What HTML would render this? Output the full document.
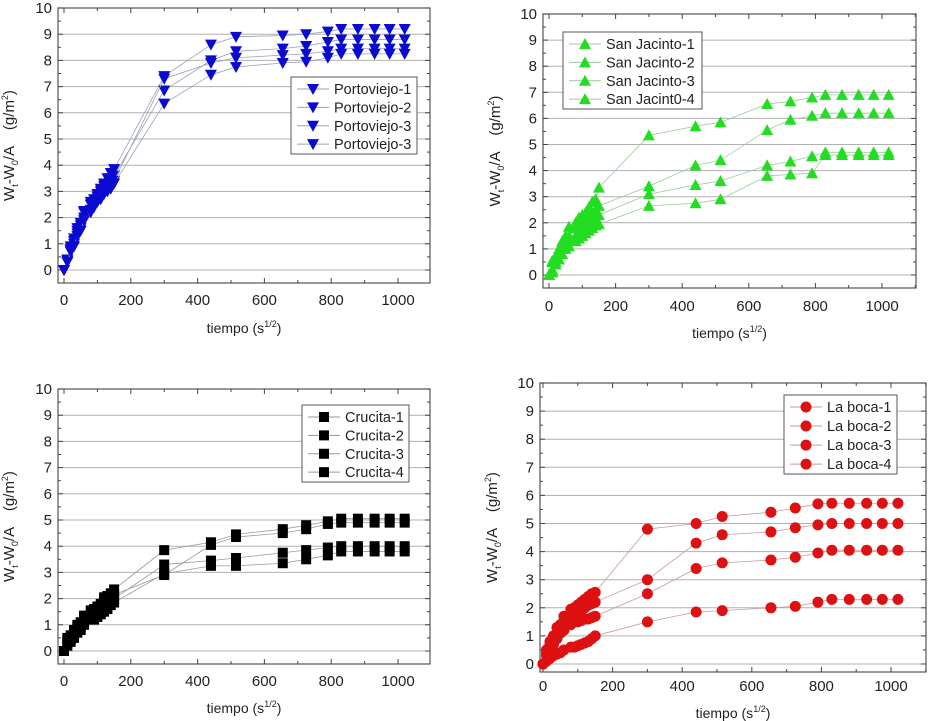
<!DOCTYPE html>
<html><head><meta charset="utf-8"><style>
html,body{margin:0;padding:0;background:#fff;}
svg{display:block;font-family:"Liberation Sans",Arial,sans-serif;}
text{white-space:pre;}
</style></head><body>
<svg id="fig" width="929" height="721" viewBox="0 0 929 721" xmlns="http://www.w3.org/2000/svg"></svg>
<script>
const xTimes=[0,10,20,30,40,50,60,80,90,100,110,120,130,140,150,300,440,515,655,725,790,830,880,930,975,1020];
const xTicks=[0,200,400,600,800,1000];
const yTicks=[0,1,2,3,4,5,6,7,8,9,10];
const portoNames=["Portoviejo-1","Portoviejo-2","Portoviejo-3","Portoviejo-3"];
const porto1=[0,0.4,0.9,1.2,1.6,1.8,2.25,2.6,2.7,2.9,3.1,3.3,3.5,3.7,3.85,7.4,8.6,8.9,8.95,9.0,9.1,9.2,9.2,9.2,9.2,9.2];
const porto2=[0,0.4,0.8,1.1,1.5,1.7,2.2,2.5,2.6,2.8,3.0,3.2,3.3,3.5,3.6,6.85,8.0,8.35,8.45,8.55,8.7,8.8,8.8,8.8,8.8,8.8];
const porto3=[0,0.35,0.75,1.0,1.4,1.6,2.0,2.3,2.5,2.7,2.9,3.0,3.2,3.3,3.4,7.3,7.9,8.1,8.2,8.25,8.35,8.45,8.45,8.45,8.45,8.45];
const porto4=[0,0.3,0.7,0.9,1.3,1.5,1.9,2.2,2.4,2.6,2.7,2.9,3.0,3.1,3.3,6.35,7.45,7.75,7.9,7.95,8.1,8.25,8.25,8.25,8.25,8.25];
const sjNames=["San Jacinto-1","San Jacinto-2","San Jacinto-3","San Jacint0-4"];
const sj1=[0,0.55,0.7,1.0,1.3,1.5,1.85,2.0,2.2,2.3,2.4,2.6,2.8,2.9,3.35,5.35,5.7,5.85,6.55,6.65,6.8,6.9,6.9,6.9,6.9,6.9];
const sj2=[0,0.5,0.6,0.9,1.1,1.3,1.5,1.8,1.9,2.0,2.1,2.2,2.4,2.5,2.65,3.4,4.2,4.4,5.55,5.95,6.1,6.2,6.2,6.2,6.2,6.2];
const sj3=[0,0.2,0.5,0.8,1.0,1.1,1.3,1.5,1.6,1.8,1.9,2.0,2.1,2.2,2.3,3.1,3.45,3.6,4.2,4.35,4.55,4.7,4.7,4.7,4.7,4.7];
const sj4=[0,0.1,0.4,0.6,0.8,1.0,1.1,1.3,1.4,1.5,1.6,1.7,1.8,1.9,1.95,2.65,2.75,2.9,3.8,3.85,3.9,4.6,4.6,4.6,4.6,4.6];
const crNames=["Crucita-1","Crucita-2","Crucita-3","Crucita-4"];
const cr1=[0,0.5,0.6,0.8,1.0,1.1,1.35,1.55,1.6,1.7,1.8,2.05,2.1,2.2,2.35,3.85,4.15,4.45,4.65,4.8,4.95,5.05,5.05,5.05,5.05,5.05];
const cr2=[0,0.4,0.5,0.7,0.9,1.0,1.2,1.4,1.5,1.5,1.6,1.9,1.95,2.0,2.15,2.9,4.05,4.35,4.5,4.65,4.85,4.9,4.9,4.9,4.9,4.9];
const cr3=[0,0.3,0.45,0.6,0.8,0.9,1.1,1.3,1.3,1.4,1.5,1.6,1.8,1.9,2.0,3.3,3.45,3.55,3.75,3.85,3.95,4.0,4.0,4.0,4.0,4.0];
const cr4=[0,0.2,0.35,0.5,0.7,0.8,1.0,1.2,1.2,1.3,1.4,1.5,1.6,1.75,1.85,2.95,3.25,3.25,3.35,3.5,3.65,3.8,3.8,3.8,3.8,3.8];
const lbNames=["La boca-1","La boca-2","La boca-3","La boca-4"];
const lb1=[0,0.5,0.8,1.0,1.3,1.4,1.7,1.95,2.0,2.1,2.2,2.3,2.4,2.5,2.55,4.8,5.0,5.25,5.4,5.55,5.7,5.72,5.72,5.72,5.72,5.72];
const lb2=[0,0.4,0.7,0.9,1.1,1.3,1.5,1.6,1.7,1.8,1.9,2.0,2.1,2.15,2.2,3.0,4.3,4.6,4.7,4.85,4.95,5.0,5.0,5.0,5.0,5.0];
const lb3=[0,0.3,0.5,0.7,0.9,1.1,1.2,1.4,1.5,1.5,1.55,1.6,1.6,1.65,1.7,2.5,3.4,3.6,3.7,3.8,3.95,4.05,4.05,4.05,4.05,4.05];
const lb4=[0,0.1,0.2,0.3,0.35,0.4,0.5,0.6,0.6,0.65,0.7,0.75,0.8,0.9,1.0,1.5,1.85,1.9,2.0,2.05,2.2,2.3,2.3,2.3,2.3,2.3];

const NS="http://www.w3.org/2000/svg";
const svg=document.getElementById('fig');
function mk(tag,attrs,parent){const e=document.createElementNS(NS,tag);for(const k in attrs)e.setAttribute(k,attrs[k]);(parent||svg).appendChild(e);return e;}

function marker(g,shape,cx,cy,color){
  let e;
  if(shape==='down'){e=mk('polygon',{points:`${cx-6},${cy-5} ${cx+6},${cy-5} ${cx},${cy+6}`,fill:color},g);}
  else if(shape==='up'){e=mk('polygon',{points:`${cx-6},${cy+5} ${cx+6},${cy+5} ${cx},${cy-6}`,fill:color},g);}
  else if(shape==='sq'){e=mk('rect',{x:cx-5,y:cy-5,width:10,height:10,fill:color},g);}
  else{e=mk('circle',{cx:cx,cy:cy,r:5.5,fill:color},g);}
  return e;
}

function panel(p){
  const g=mk('g',{});
  
  
  const X=v=>p.x0+(v)*(p.x1000-p.x0)/1000;
  const Y=v=>p.y0-(v)*(p.y0-p.y10)/10;
  yTicks.forEach(t=>{
    const l=mk('line',{x1:p.L,x2:p.R,y1:Y(t),y2:Y(t),stroke:'#b0b0b0','stroke-width':1},g);
    
    
  });
  const fr=mk('rect',{x:p.L,y:p.y10,width:p.R-p.L,height:p.B-p.y10,fill:'none',stroke:'#555','stroke-width':1.2},g);
  
  
  for(let t=0;t<=1100;t+=100){
    const len=t%200===0?5:3;const x=X(t);
    if(x>p.R)continue;
    mk('line',{x1:x,x2:x,y1:p.B,y2:p.B-len,stroke:'#444'},g);
    mk('line',{x1:x,x2:x,y1:p.y10,y2:p.y10+len,stroke:'#444'},g);
  }
  for(let t=0;t<=10;t+=0.5){
    const len=t%1===0?5:3;const y=Y(t);
    mk('line',{x1:p.L,x2:p.L+len,y1:y,y2:y,stroke:'#444'},g);
    mk('line',{x1:p.R,x2:p.R-len,y1:y,y2:y,stroke:'#444'},g);
  }
  xTicks.forEach(t=>{
    const tx=mk('text',{x:X(t),y:p.xlabY,'font-size':15,'text-anchor':'middle',fill:'#222'},g);
    tx.textContent=t;
    
    
  });
  yTicks.forEach(t=>{
    const tx=mk('text',{x:p.L-6,y:Y(t)+5,'font-size':15,'text-anchor':'end',fill:'#222'},g);
    tx.textContent=t;
    
    
  });
  const xt=mk('text',{x:(p.L+p.R)/2,y:p.xtitleY,'font-size':14,'text-anchor':'middle',fill:'#222'},g);
  xt.innerHTML='tiempo (s<tspan dy="-6" font-size="9">1/2</tspan><tspan dy="6">)</tspan>';
  
  
  const yc=(p.y10+p.B)/2;
  const yt=mk('text',{x:p.ytitleX,y:yc,'font-size':15,'text-anchor':'middle',fill:'#222',transform:`rotate(-90 ${p.ytitleX} ${yc})`},g);
  yt.innerHTML='W<tspan dy="4" font-size="9">t</tspan><tspan dy="-4">-W</tspan><tspan dy="4" font-size="9">0</tspan><tspan dy="-4">/A    (g/m</tspan><tspan dy="-6" font-size="9">2</tspan><tspan dy="6">)</tspan>';
  
  
  p.series.forEach((s,i)=>{
    const sg=mk('g',{},g);
    
    
    const pts=xTimes.map((t,j)=>`${X(t)},${Y(s[j])}`).join(' ');
    mk('polyline',{points:pts,fill:'none',stroke:p.line,'stroke-width':0.8},sg);
    xTimes.forEach((t,j)=>{
      const m=marker(sg,p.shape,X(t),Y(s[j]),p.color);
      
      
    });
  });
  const lg=mk('g',{},g);
  
  
  mk('rect',{x:p.lg[0],y:p.lg[1],width:p.lg[2],height:p.lg[3],fill:'#fff',stroke:'#555'},lg);
  p.names.forEach((n,i)=>{
    const cy=p.lg[1]+12+i*(p.lg[3]-20)/3.1;
    const e=mk('g',{},lg);
    
    
    mk('line',{x1:p.lg[0]+6,x2:p.lg[0]+38,y1:cy,y2:cy,stroke:p.line},e);
    marker(e,p.shape,p.lg[0]+22,cy,p.color);
    const t=mk('text',{x:p.lg[0]+43,y:cy+5,'font-size':14.5,fill:'#222'},e);
    t.textContent=n;
  });
}

panel({name:'chart-portoviejo',L:58,R:430,y10:8,y0:270,B:283,x0:64,x1000:398,xlabY:305,xtitleY:333,ytitleX:14,
  series:[porto1,porto2,porto3,porto4],names:portoNames,shape:'down',color:'#0a0ad0',line:'#9aa0b8',lg:[291,77,126,77]});
panel({name:'chart-san-jacinto',L:543,R:916,y10:14,y0:275,B:288,x0:549,x1000:882,xlabY:311,xtitleY:338,ytitleX:500,
  series:[sj1,sj2,sj3,sj4],names:sjNames,shape:'up',color:'#22dd22',line:'#98cc98',lg:[563,32,139,77]});
panel({name:'chart-crucita',L:58,R:430,y10:389,y0:651,B:664,x0:64,x1000:398,xlabY:686,xtitleY:713,ytitleX:14,
  series:[cr1,cr2,cr3,cr4],names:crNames,shape:'sq',color:'#000',line:'#999',lg:[302,405,107,77]});
panel({name:'chart-la-boca',L:540,R:926,y10:383,y0:664,B:672,x0:543,x1000:891,xlabY:691,xtitleY:718,ytitleX:497,
  series:[lb1,lb2,lb3,lb4],names:lbNames,shape:'circ',color:'#dd1111',line:'#c89a9a',lg:[784,395,113,79]});
</script>
</body></html>
